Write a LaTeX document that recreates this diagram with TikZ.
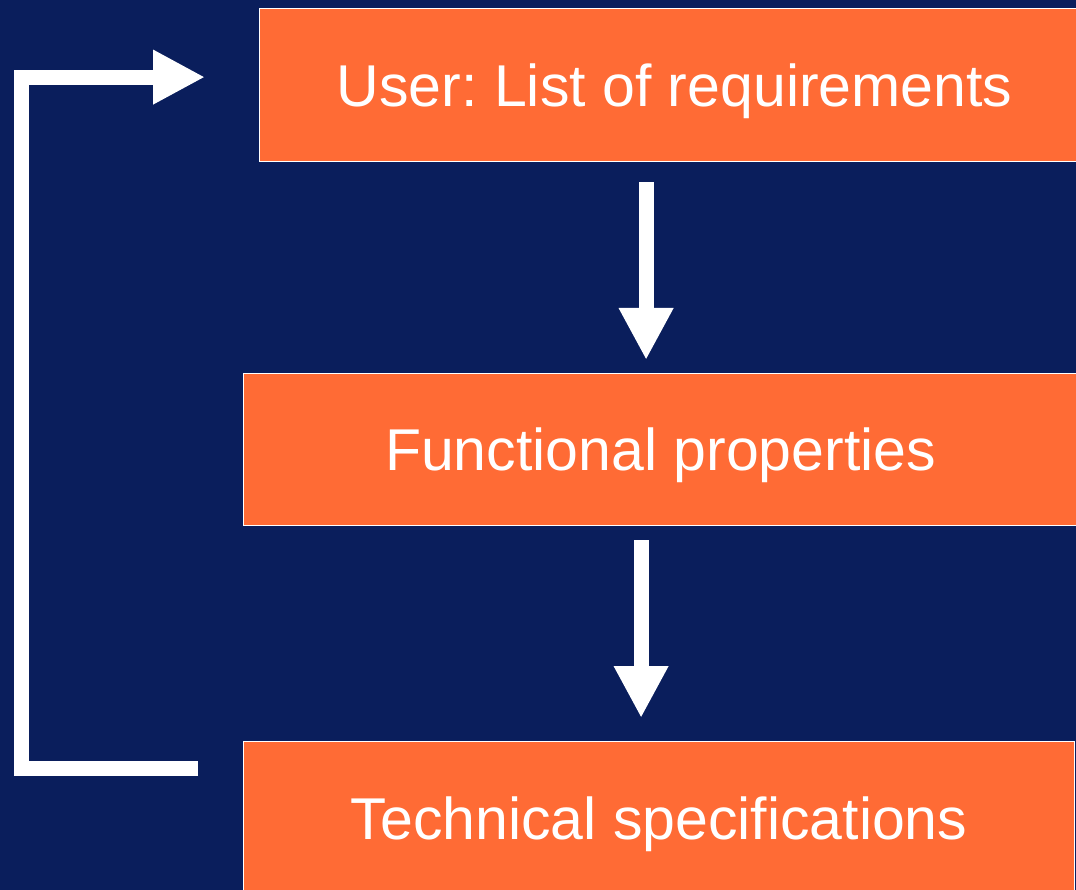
\documentclass[tikz,border=0pt]{standalone}
\usepackage{fontspec}
\setmainfont{Liberation Sans}
\usetikzlibrary{arrows.meta}
\frenchspacing

\definecolor{navybg}{RGB}{10,30,92}
\definecolor{boxorange}{RGB}{255,107,53}

\begin{document}
\begin{tikzpicture}[x=1pt,y=-1pt]
    \tikzstyle{stage}=[rectangle, draw=white, line width=1.2pt, fill=boxorange, text=white, inner sep=0pt, text depth=0pt, anchor=north west, font=\fontsize{59}{70}\selectfont]
    \tikzstyle{connect}=[draw=white, line width=15pt, -{Triangle[width=51pt,length=52pt]}]

      \fill[navybg] (0,0) rectangle (1076,890);
      \useasboundingbox (0,0) rectangle (1076,890);

      \node[stage, minimum width=830pt, minimum height=153pt] (req) at (259,8) {User: List of requirements};
      \node[stage, minimum width=834pt, minimum height=152pt] (func) at (243,373) {Functional properties};
      \node[stage, minimum width=831pt, minimum height=153pt] (tech) at (243,741) {Technical specifications};

      \draw[connect] ([xshift=-28.5pt,yshift=-20pt]req.south) -- ([xshift=-14.5pt,yshift=13pt]func.north);
      \draw[connect] ([xshift=-19.5pt,yshift=-14pt]func.south) -- ([xshift=-18pt,yshift=23pt]tech.north);
      % feedback loop
      \draw[connect] ([xshift=-45pt,yshift=50pt]tech.west) -- ++(-176.5,0) |- ([xshift=-54pt,yshift=8pt]req.west);
    \end{tikzpicture}
\end{document}
